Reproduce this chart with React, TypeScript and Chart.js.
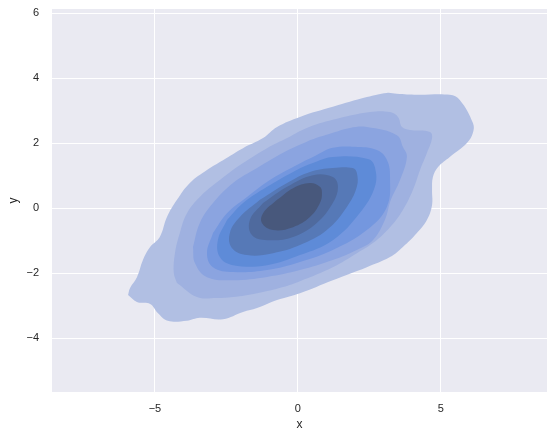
import React, { useEffect, useRef } from 'react';
import { Chart, registerables } from 'chart.js';

Chart.register(...registerables);

// Contour polygons (data coordinates), outermost to innermost
const band1: number[][] = [[-5.94,-2.67],[-5.63,-2.88],[-5.17,-2.94],[-4.90,-3.22],[-4.55,-3.46],[-3.88,-3.46],[-3.43,-3.37],[-2.62,-3.41],[-1.92,-3.19],[-1.43,-3.07],[-0.73,-2.82],[0.07,-2.61],[1.22,-2.21],[2.41,-1.81],[3.22,-1.50],[3.67,-1.19],[4.16,-0.76],[4.51,-0.36],[4.69,0.10],[4.69,0.56],[4.72,0.96],[4.90,1.27],[5.31,1.58],[5.91,2.01],[6.12,2.32],[6.12,2.62],[5.66,3.33],[5.31,3.49],[4.16,3.49],[3.46,3.52],[3.11,3.55],[2.41,3.42],[1.22,3.12],[0.07,2.81],[-0.73,2.50],[-1.22,2.16],[-1.92,1.85],[-2.62,1.48],[-3.18,1.18],[-3.78,0.78],[-4.23,0.26],[-4.58,-0.27],[-4.83,-0.88],[-5.17,-1.19],[-5.42,-1.59],[-5.63,-2.12],[-5.87,-2.45]];
const band2: number[][] = [[-4.23,-2.30],[-3.53,-2.73],[-2.83,-2.76],[-2.27,-2.73],[-1.43,-2.61],[-0.52,-2.42],[0.07,-2.24],[1.22,-1.81],[2.06,-1.38],[2.62,-1.07],[3.22,-0.58],[3.67,-0.05],[4.02,0.56],[4.27,1.18],[4.51,1.70],[4.69,2.16],[4.62,2.35],[3.92,2.41],[3.64,2.50],[3.50,2.81],[3.22,2.96],[2.52,2.96],[1.22,2.72],[0.31,2.47],[-0.38,2.16],[-1.08,1.85],[-1.92,1.39],[-2.73,0.87],[-3.43,0.35],[-3.88,-0.15],[-4.13,-0.76],[-4.30,-1.38],[-4.34,-1.99]];
const band3: number[][] = [[-3.67,-1.19],[-3.60,-1.69],[-3.18,-2.12],[-2.27,-2.21],[-1.08,-2.11],[0.07,-1.90],[1.22,-1.59],[2.06,-1.28],[2.62,-0.98],[3.04,-0.36],[3.25,0.26],[3.57,0.87],[3.81,1.58],[3.67,1.89],[3.46,2.25],[2.41,2.50],[1.82,2.47],[1.22,2.32],[0.31,2.05],[-0.52,1.71],[-1.43,1.24],[-2.27,0.78],[-2.97,0.16],[-3.43,-0.45]];
const band4: number[][] = [[-2.97,-0.76],[-3.18,-1.38],[-2.97,-1.81],[-2.27,-1.96],[-1.08,-1.90],[0.07,-1.65],[1.22,-1.28],[2.41,-0.67],[3.11,0.04],[3.22,0.96],[3.11,1.49],[2.76,1.79],[1.99,1.89],[1.22,1.86],[0.66,1.64],[-0.17,1.27],[-0.98,0.87],[-1.78,0.35],[-2.48,-0.15]];
const band5: number[][] = [[-2.48,-0.36],[-2.80,-0.98],[-2.73,-1.50],[-2.27,-1.75],[-1.08,-1.75],[0.07,-1.44],[1.22,-0.98],[2.17,-0.14],[2.69,0.66],[2.69,1.27],[2.45,1.52],[1.22,1.58],[0.52,1.39],[-0.17,1.12],[-1.08,0.66],[-1.92,0.16]];
const band6: number[][] = [[-1.33,0.26],[-2.03,-0.27],[-2.38,-0.76],[-2.31,-1.22],[-1.78,-1.44],[-0.87,-1.38],[0.07,-1.13],[1.01,-0.67],[1.71,0.04],[2.06,0.66],[2.06,1.09],[1.92,1.24],[1.22,1.24],[0.42,1.12],[-0.38,0.78]];
const band7: number[][] = [[-1.22,0.16],[-1.68,-0.36],[-1.61,-0.82],[-1.08,-0.98],[-0.17,-0.88],[0.66,-0.45],[1.22,0.16],[1.40,0.66],[1.22,0.96],[0.52,1.02],[-0.38,0.66]];
const band8: number[][] = [[-0.73,0.26],[-1.22,-0.15],[-1.26,-0.45],[-0.87,-0.67],[-0.17,-0.58],[0.42,-0.27],[0.77,0.16],[0.84,0.47],[0.77,0.66],[0.42,0.78],[-0.17,0.62]];

const bands = [band1, band2, band3, band4, band5, band6, band7, band8];
const bandColors = ['#b1bfe3', '#9fb1e0', '#8ba4e0', '#7497df', '#5e8bd8', '#5679b7', '#4f6a9e', '#48587c'];

const xTicks = [-5, 0, 5];
const yTicks = [-4, -2, 0, 2, 4, 6];
const xMin = -8.6, xMax = 8.71;
const yMin = -5.65, yMax = 6.13;

const fmt = (v: number) => (v < 0 ? '\u2212' + Math.abs(v) : String(v));

const bgPlugin = {
  id: 'plotBg',
  beforeDraw(chart: any) {
    const { ctx, chartArea } = chart;
    ctx.save();
    ctx.fillStyle = '#eaeaf2';
    ctx.fillRect(chartArea.left, chartArea.top, chartArea.right - chartArea.left, chartArea.bottom - chartArea.top);
    ctx.restore();
  },
};

export default function App() {
  const ref = useRef<HTMLCanvasElement>(null);
  useEffect(() => {
    if (!ref.current) return;
    const datasets = bands.map((b, i) => {
      const pts = b.map(([x, y]) => ({ x, y }));
      pts.push({ x: b[0][0], y: b[0][1] });
      return {
        data: pts,
        showLine: true,
        fill: 'shape' as any,
        backgroundColor: bandColors[i],
        borderColor: bandColors[i],
        borderWidth: 0,
        pointRadius: 0,
        tension: 0.4,
        order: bands.length - i,
      };
    });
    const tickFont = { family: '"Liberation Sans", Arial, sans-serif', size: 11 };
    const titleFont = { family: '"Liberation Sans", Arial, sans-serif', size: 12 };
    const chart = new Chart(ref.current, {
      type: 'scatter',
      data: { datasets: datasets as any },
      plugins: [bgPlugin],
      options: {
        responsive: false,
        animation: false,
        events: [],
        layout: { padding: { top: 9, right: 7, left: 0, bottom: 0 } },
        plugins: { legend: { display: false }, tooltip: { enabled: false } },
        scales: {
          x: {
            type: 'linear',
            min: xMin,
            max: xMax,
            border: { display: false },
            grid: { color: '#ffffff', lineWidth: 1, drawTicks: false },
            ticks: { color: '#262626', font: tickFont, padding: 10, callback: (v: any) => fmt(Number(v)) },
            title: { display: true, text: 'x', color: '#262626', font: titleFont, padding: { top: 0, bottom: 9 } },
            afterBuildTicks: (s: any) => { s.ticks = xTicks.map((v) => ({ value: v })); },
            afterFit: (s: any) => { s.height = 49; s.paddingLeft = 0; s.paddingRight = 0; },
          },
          y: {
            type: 'linear',
            min: yMin,
            max: yMax,
            border: { display: false },
            grid: { color: '#ffffff', lineWidth: 1, drawTicks: false },
            ticks: { color: '#262626', font: tickFont, padding: 13, callback: (v: any) => fmt(Number(v)) },
            title: { display: true, text: 'y', color: '#262626', font: titleFont, padding: { top: 6, bottom: 0 } },
            afterBuildTicks: (s: any) => { s.ticks = yTicks.map((v) => ({ value: v })); },
            afterFit: (s: any) => { s.width = 52; s.paddingTop = 0; s.paddingBottom = 0; },
          },
        },
      } as any,
    });
    return () => chart.destroy();
  }, []);
  return (
    <div style={{ position: 'fixed', left: 0, top: 0, width: 554, height: 441, background: '#ffffff' }}>
      <canvas ref={ref} width={554} height={441} style={{ display: 'block' }} />
    </div>
  );
}
